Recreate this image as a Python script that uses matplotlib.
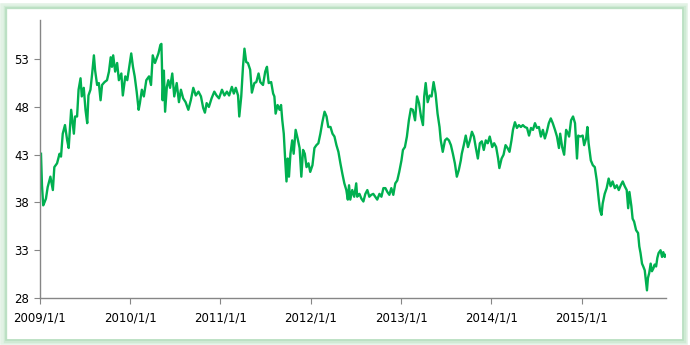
import matplotlib.pyplot as plt
from matplotlib.patches import Rectangle
import pandas as pd

dates = [
    "2009-01-05", "2009-01-09", "2009-01-14", "2009-01-19", "2009-01-25", "2009-02-01",
    "2009-02-12", "2009-02-22", "2009-02-28", "2009-03-11", "2009-03-21", "2009-03-27",
    "2009-04-03", "2009-04-12", "2009-04-21", "2009-04-27", "2009-05-07", "2009-05-18",
    "2009-05-23", "2009-05-31", "2009-06-06", "2009-06-14", "2009-06-19", "2009-06-27",
    "2009-07-04", "2009-07-11", "2009-07-16", "2009-07-24", "2009-07-31", "2009-08-07",
    "2009-08-12", "2009-08-20", "2009-08-27", "2009-09-03", "2009-09-09", "2009-09-19",
    "2009-09-29", "2009-10-07", "2009-10-14", "2009-10-19", "2009-10-24", "2009-11-01",
    "2009-11-09", "2009-11-16", "2009-11-26", "2009-12-02", "2009-12-12", "2009-12-20",
    "2009-12-30",
    "2010-01-05", "2010-01-12", "2010-01-19", "2010-01-27", "2010-02-04", "2010-02-09",
    "2010-02-17", "2010-02-25", "2010-03-07", "2010-03-18", "2010-03-26", "2010-04-02",
    "2010-04-11", "2010-04-18", "2010-04-25", "2010-05-03", "2010-05-07", "2010-05-09",
    "2010-05-12", "2010-05-17", "2010-05-22", "2010-05-29", "2010-06-04", "2010-06-11",
    "2010-06-20", "2010-06-28", "2010-07-08", "2010-07-17", "2010-07-25", "2010-08-03",
    "2010-08-13", "2010-08-24", "2010-09-03", "2010-09-13", "2010-09-23", "2010-10-04",
    "2010-10-14", "2010-10-23", "2010-10-30", "2010-11-06", "2010-11-15", "2010-11-26",
    "2010-12-07", "2010-12-16", "2010-12-26",
    "2011-01-07", "2011-01-17", "2011-01-27", "2011-02-05", "2011-02-16", "2011-02-24",
    "2011-03-04", "2011-03-13", "2011-03-18", "2011-03-26", "2011-04-02", "2011-04-08",
    "2011-04-15", "2011-04-22", "2011-05-01", "2011-05-08", "2011-05-18", "2011-05-26",
    "2011-06-04", "2011-06-11", "2011-06-22", "2011-07-01", "2011-07-08", "2011-07-15",
    "2011-07-25", "2011-08-02", "2011-08-07", "2011-08-12", "2011-08-20", "2011-08-28",
    "2011-09-03", "2011-09-08", "2011-09-14", "2011-09-19", "2011-09-25", "2011-09-30",
    "2011-10-05", "2011-10-11", "2011-10-18", "2011-10-24", "2011-11-01", "2011-11-09",
    "2011-11-17", "2011-11-24", "2011-12-01", "2011-12-08", "2011-12-15", "2011-12-23",
    "2011-12-30",
    "2012-01-08", "2012-01-16", "2012-01-24", "2012-02-01", "2012-02-09", "2012-02-17",
    "2012-02-26", "2012-03-05", "2012-03-12", "2012-03-21", "2012-03-29", "2012-04-06",
    "2012-04-14", "2012-04-22", "2012-04-30", "2012-05-08", "2012-05-16", "2012-05-24",
    "2012-05-30", "2012-06-04", "2012-06-09", "2012-06-17", "2012-06-25", "2012-07-03",
    "2012-07-07", "2012-07-12", "2012-07-16", "2012-07-24", "2012-08-01", "2012-08-09",
    "2012-08-17", "2012-08-25", "2012-09-02", "2012-09-10", "2012-09-18", "2012-09-26",
    "2012-10-05", "2012-10-13", "2012-10-21", "2012-10-29", "2012-11-06", "2012-11-14",
    "2012-11-22", "2012-11-30", "2012-12-08", "2012-12-16", "2012-12-24",
    "2013-01-02", "2013-01-08", "2013-01-16", "2013-01-24", "2013-02-01", "2013-02-09",
    "2013-02-17", "2013-02-26", "2013-03-06", "2013-03-14", "2013-03-22", "2013-03-30",
    "2013-04-04", "2013-04-10", "2013-04-18", "2013-04-26", "2013-05-04", "2013-05-12",
    "2013-05-20", "2013-05-28", "2013-06-05", "2013-06-10", "2013-06-18", "2013-06-27",
    "2013-07-05", "2013-07-13", "2013-07-21", "2013-07-29", "2013-08-06", "2013-08-14",
    "2013-08-22", "2013-08-30", "2013-09-03", "2013-09-11", "2013-09-19", "2013-09-28",
    "2013-10-06", "2013-10-14", "2013-10-22", "2013-10-30", "2013-11-07", "2013-11-15",
    "2013-11-23", "2013-12-01", "2013-12-09", "2013-12-17", "2013-12-25",
    "2014-01-04", "2014-01-12", "2014-01-20", "2014-01-28", "2014-02-02", "2014-02-11",
    "2014-02-19", "2014-02-27", "2014-03-07", "2014-03-15", "2014-03-23", "2014-03-29",
    "2014-04-06", "2014-04-14", "2014-04-22", "2014-04-30", "2014-05-08", "2014-05-16",
    "2014-05-25", "2014-06-02", "2014-06-10", "2014-06-18", "2014-06-26", "2014-07-04",
    "2014-07-12", "2014-07-20", "2014-07-28", "2014-08-05", "2014-08-13", "2014-08-21",
    "2014-08-29", "2014-09-06", "2014-09-15", "2014-09-23", "2014-10-01", "2014-10-06",
    "2014-10-14", "2014-10-22", "2014-10-30", "2014-11-07", "2014-11-11", "2014-11-19",
    "2014-11-27", "2014-12-05", "2014-12-13", "2014-12-18", "2014-12-26",
    "2015-01-05", "2015-01-11", "2015-01-19", "2015-01-24", "2015-01-29", "2015-02-07",
    "2015-02-15", "2015-02-23", "2015-03-03", "2015-03-11", "2015-03-16", "2015-03-22",
    "2015-03-27", "2015-04-04", "2015-04-12", "2015-04-20", "2015-04-28", "2015-05-06",
    "2015-05-15", "2015-05-23", "2015-05-31", "2015-06-08", "2015-06-16", "2015-06-24",
    "2015-07-02", "2015-07-08", "2015-07-13", "2015-07-21", "2015-07-26", "2015-08-01",
    "2015-08-09", "2015-08-17", "2015-08-22", "2015-08-27", "2015-09-02", "2015-09-07",
    "2015-09-13", "2015-09-18", "2015-09-22", "2015-09-26", "2015-10-01", "2015-10-07",
    "2015-10-12", "2015-10-18", "2015-10-23", "2015-10-29", "2015-11-03", "2015-11-08",
    "2015-11-16", "2015-11-22", "2015-11-27", "2015-12-03", "2015-12-08",
]

prices = [
    43.1, 39.8, 37.7, 38.0, 38.4, 39.6,
    40.7, 39.3, 41.7, 42.1, 43.1, 42.8,
    45.2, 46.1, 44.5, 43.7, 47.7, 45.2,
    47.0, 47.0, 49.8, 51.0, 49.1, 50.0,
    47.7, 46.3, 49.2, 49.8, 51.5, 53.4,
    51.8, 50.3, 50.5, 48.7, 50.3, 50.6,
    50.8, 51.7, 53.2, 52.2, 53.4, 51.7,
    52.6, 50.8, 51.5, 49.2, 51.2, 50.8,
    52.6,
    53.6, 52.2, 51.2, 49.6, 47.7, 48.4,
    49.8, 49.1, 50.8, 51.2, 50.3, 53.4,
    52.6, 53.1, 53.6, 54.5, 54.6, 52.6,
    48.7, 51.8, 47.5, 50.1, 50.8, 50.0,
    51.5, 49.1, 50.5, 48.5, 49.8, 48.9,
    48.5, 47.7, 48.7, 50.0, 49.2, 49.6,
    49.1, 47.9, 47.4, 48.4, 48.0, 48.9,
    49.6, 49.2, 48.9,
    49.8, 49.2, 49.6, 49.2, 50.1, 49.4,
    50.0, 49.2, 47.0, 49.1, 52.2, 54.1,
    52.7, 52.6, 51.9, 49.5, 50.5, 50.6,
    51.5, 50.6, 50.3, 51.7, 52.2, 50.5,
    50.6, 49.4, 49.1, 47.3, 48.2, 47.7,
    48.2, 46.6, 45.2, 42.8, 40.2, 42.6,
    40.7, 43.1, 44.5, 43.1, 45.6, 44.7,
    43.7, 40.7, 43.5, 43.1, 41.7, 42.1,
    41.2,
    41.9, 43.7, 44.0, 44.2, 45.2, 46.4,
    47.5, 47.0, 45.9, 45.9, 45.2, 44.9,
    44.0, 43.3, 42.1, 41.0, 40.0, 39.3,
    38.3, 39.8, 38.3, 39.3, 38.6, 40.0,
    38.6, 38.8, 38.9, 38.4, 38.1, 38.9,
    39.3, 38.6, 38.8, 38.9, 38.6, 38.3,
    38.9, 38.6, 39.5, 39.5, 39.1, 38.8,
    39.5, 38.8, 40.0, 40.3, 41.2,
    42.4, 43.5, 43.8, 44.9, 46.6, 47.8,
    47.7, 46.6, 49.1, 48.4, 47.0, 46.1,
    49.1, 50.5, 48.5, 49.2, 49.1, 50.6,
    49.4, 47.3, 45.9, 44.5, 43.3, 44.5,
    44.7, 44.5, 44.0, 43.1, 42.1, 40.7,
    41.4, 42.4, 43.1, 44.0, 45.0, 43.8,
    44.5, 45.4, 44.9, 43.7, 42.6, 44.2,
    44.4, 43.5, 44.5, 44.2, 44.9,
    43.8, 44.2, 43.8, 42.6, 41.6, 42.6,
    43.0, 44.0, 43.7, 43.3, 44.5, 45.6,
    46.4, 45.8, 46.1, 45.9, 46.1, 45.9,
    45.8, 45.0, 45.8, 45.6, 46.3, 45.8,
    45.9, 44.9, 45.6, 44.7, 45.4, 46.3,
    46.8, 46.3, 45.6, 44.9, 43.7, 45.2,
    43.8, 43.0, 45.6, 45.2, 44.9, 46.6,
    47.0, 46.3, 42.6, 45.0, 44.9,
    45.0, 44.0, 44.7, 45.9, 44.2, 42.4,
    41.9, 41.7, 40.3, 38.3, 37.2, 36.7,
    37.9, 38.9, 39.5, 40.5, 39.7, 40.2,
    39.5, 39.8, 39.3, 39.8, 40.2, 39.7,
    39.3, 37.4, 39.1, 37.6, 36.3, 36.0,
    35.1, 34.8, 33.4, 32.7, 31.6, 31.3,
    30.9, 29.7, 28.8, 30.1, 30.6, 31.6,
    30.8, 31.1, 31.5, 31.3, 32.2, 32.7,
    33.0, 32.3, 32.8, 32.3, 32.5,
]

year_ticks = ["2009-01-01", "2010-01-01", "2011-01-01", "2012-01-01",
              "2013-01-01", "2014-01-01", "2015-01-01"]
y_ticks = [28, 33, 38, 43, 48, 53]

x = pd.to_datetime(dates)
ticks = pd.to_datetime(year_ticks)

fig = plt.figure(figsize=(6.9, 3.45), dpi=100)
fig.patch.set_facecolor('white')

# soft green frame around the chart area
W, H = 690.0, 345.0
for off, lw, col in [(3.5, 4.0, '#e2f2e5'), (4.5, 2.5, '#cfead4'), (5.5, 1.2, '#b9dfc1')]:
    fig.patches.append(Rectangle((off / W, off / H), 1 - 2 * off / W - 2 / W, 1 - 2 * off / H - 2 / H,
                                 transform=fig.transFigure, fill=False, edgecolor=col, lw=lw))

ax = fig.add_axes([40 / W, 1 - 298 / H, (666 - 40) / W, (298 - 20) / H])
ax.plot(x, prices, color='#00B050', lw=1.7)

ax.set_xlim(pd.Timestamp("2009-01-01"), x[-1])
ax.set_ylim(28, 57.1)
ax.set_yticks(y_ticks)
ax.set_xticks(ticks)
ax.set_xticklabels([t.strftime('%Y/%-m/%-d') for t in ticks])

for side in ['top', 'right']:
    ax.spines[side].set_visible(False)
for side in ['left', 'bottom']:
    ax.spines[side].set_color('#868686')
    ax.spines[side].set_linewidth(1)

ax.tick_params(axis='both', direction='out', length=4, color='#868686', labelsize=8.5,
               labelcolor='black')
ax.tick_params(axis='x', pad=6)
ax.tick_params(axis='y', pad=4)

plt.savefig('out.png', dpi=100)
